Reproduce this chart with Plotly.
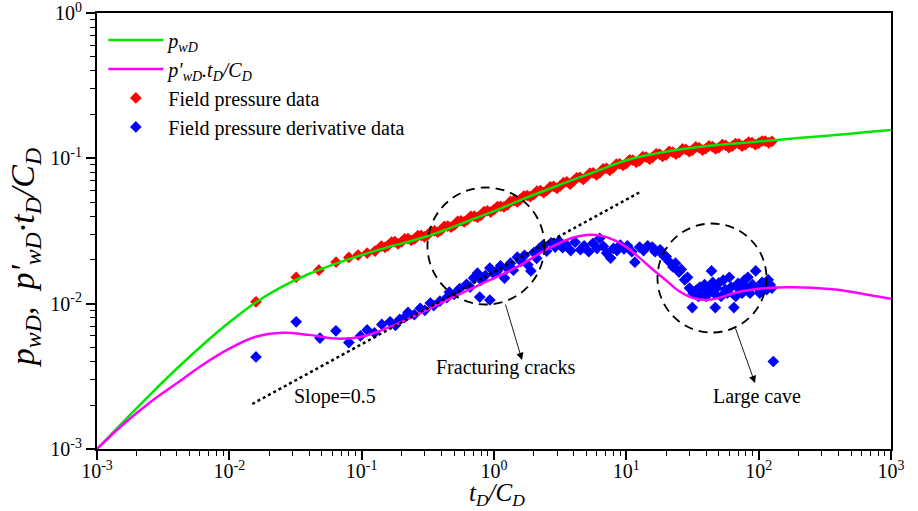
import plotly.graph_objects as go

# ---------------- data ----------------
# model curve p_wD
pwd_x = [0.001, 0.00158, 0.00251, 0.00398, 0.00631, 0.01, 0.0158, 0.0251, 0.0398, 0.0631,
         0.1, 0.158, 0.251, 0.398, 0.631, 1.0, 1.585, 2.512, 3.98, 6.31, 10, 15.85, 25.1,
         39.8, 63.1, 100, 158, 251, 398, 631, 1000]
pwd_y = [0.00100, 0.00154, 0.00236, 0.00355, 0.00522, 0.00745, 0.0102, 0.0131, 0.0160,
         0.0188, 0.0216, 0.0245, 0.0274, 0.0314, 0.0369, 0.0433, 0.0516, 0.0608, 0.0713,
         0.0832, 0.0970, 0.1069, 0.1151, 0.1213, 0.1259, 0.1306, 0.1355, 0.1403, 0.1452,
         0.1510, 0.1567]

# model derivative p'_wD * tD/CD
dpwd_x = [0.001, 0.00158, 0.00251, 0.00398, 0.00631, 0.01, 0.0158, 0.0251, 0.0398, 0.0631,
          0.1, 0.158, 0.251, 0.398, 0.631, 1.0, 1.585, 2.512, 3.98, 5.01, 6.31, 7.94, 10,
          12.6, 15.85, 20.0, 25.1, 31.6, 39.8, 50.1, 63.1, 100, 158, 251, 398, 631, 1000]
dpwd_y = [0.00100, 0.00148, 0.00209, 0.00282, 0.00380, 0.00490, 0.00592, 0.00631, 0.00610,
          0.00575, 0.00592, 0.00684, 0.00822, 0.01012, 0.01236, 0.01496, 0.01841, 0.02371,
          0.02851, 0.02972, 0.02951, 0.02754, 0.02449, 0.02065, 0.01718, 0.01445, 0.01216,
          0.01096, 0.01059, 0.01096, 0.01175, 0.01265, 0.01297, 0.01288, 0.01245, 0.01161,
          0.01079]

# field pressure data
red_x = [0.0159, 0.032, 0.0475, 0.064, 0.080, 0.094, 0.110, 0.126,
         0.141, 0.158, 0.178, 0.200, 0.224, 0.251, 0.282, 0.316, 0.355, 0.398, 0.447, 0.501,
         0.562, 0.631, 0.708, 0.794, 0.891, 1.00, 1.12, 1.26, 1.41, 1.58, 1.78, 2.00, 2.24,
         2.51, 2.82, 3.16, 3.55, 3.98, 4.47, 5.01, 5.62, 6.31, 7.08, 7.94, 8.91, 10.0, 11.2,
         12.6, 14.1, 15.8, 17.8, 20.0, 22.4, 25.1, 28.2, 31.6, 35.5, 39.8, 44.7, 50.1, 56.2,
         63.1, 70.8, 79.4, 89.1, 100, 112, 126,
         0.150, 0.168, 0.188, 0.211, 0.237, 0.266, 0.299, 0.335, 0.376, 0.422, 0.473, 0.531,
         0.596, 0.668, 0.750, 0.841, 0.944, 1.06, 1.19, 1.33, 1.50, 1.68, 1.88, 2.11, 2.37,
         2.66, 2.99, 3.35, 3.76, 4.22, 4.73, 5.31, 5.96, 6.68, 7.50, 8.41, 9.44, 10.6, 11.9,
         13.3, 15.0, 16.8, 18.8, 21.1, 23.7, 26.6, 29.9, 33.5, 37.6, 42.2, 47.3, 53.1, 59.6,
         66.8, 75.0, 84.1, 94.4, 106, 119]
red_y = [0.0103, 0.0152, 0.0170, 0.0193, 0.0208, 0.0216, 0.0223, 0.0230,
         0.0249, 0.0251, 0.0267, 0.0266, 0.0280, 0.0279, 0.0295, 0.0298, 0.0317, 0.0321, 0.0342,
         0.0347, 0.0372, 0.0379, 0.0400, 0.0405, 0.0436, 0.0443, 0.0468, 0.0477, 0.0512, 0.0522,
         0.0555, 0.0564, 0.0600, 0.0601, 0.0641, 0.0646, 0.0690, 0.0697, 0.0741, 0.0750, 0.0794,
         0.0798, 0.0853, 0.0859, 0.0916, 0.0923, 0.0972, 0.0964, 0.1019, 0.1016, 0.1069, 0.1054,
         0.1104, 0.1099, 0.1151, 0.1140, 0.1183, 0.1164, 0.1205, 0.1186, 0.1230, 0.1213, 0.1256,
         0.1242, 0.1282, 0.1271, 0.1312, 0.1309,
         0.0244, 0.0265, 0.0258, 0.0279, 0.0273, 0.0294, 0.0288, 0.0314, 0.0310, 0.0341,
         0.0336, 0.0369, 0.0365, 0.0399, 0.0393, 0.0430, 0.0427, 0.0465, 0.0463, 0.0505,
         0.0501, 0.0550, 0.0545, 0.0595, 0.0581, 0.0637, 0.0622, 0.0680, 0.0664, 0.0734,
         0.0715, 0.0790, 0.0769, 0.0848, 0.0827, 0.0914, 0.0893, 0.0977, 0.0939, 0.1026,
         0.0986, 0.1074, 0.1030, 0.1117, 0.1069, 0.1161, 0.1112, 0.1200, 0.1139, 0.1219,
         0.1161, 0.1242, 0.1186, 0.1265, 0.1213, 0.1291, 0.1242, 0.1314, 0.1279]

# field pressure derivative data
blue_x = [0.0159, 0.032, 0.0484, 0.0639, 0.080,
          0.098, 0.11, 0.125, 0.142, 0.164, 0.18, 0.194, 0.21, 0.224, 0.25, 0.277, 0.30, 0.33,
          0.35, 0.39, 0.44, 0.46, 0.50, 0.55, 0.62, 0.66, 0.70, 0.75, 0.78, 0.80, 0.86, 0.93,
          0.93, 1.0, 1.06, 1.12, 1.2, 1.26, 1.33, 1.4, 1.5, 1.6, 1.7, 1.8, 1.9, 2.0, 2.1, 2.2,
          2.35, 2.5,
          2.7, 2.9, 3.1, 3.3, 3.5, 3.8, 4.1, 4.5, 4.8, 5.2, 5.6, 6.0, 6.3, 6.7, 7.1, 7.6, 8.0,
          8.5, 9.0, 9.6, 10.2, 11.0, 11.6, 12.6, 13.5, 14.5, 15.7, 16.5, 18, 19, 20, 21, 22.5,
          23.5, 25, 26, 27.6, 29, 30,
          31.5, 32, 33.8, 35, 36, 38, 39, 40, 42, 44, 45, 46, 47, 48, 50, 52, 54, 56, 58, 60,
          62, 65, 67, 70, 72, 75, 78, 80, 83, 86, 90, 95, 98, 102, 106, 110, 115, 118, 122,
          126, 129]
blue_y = [0.0043, 0.0075, 0.0058, 0.0065, 0.0054,
          0.0060, 0.0066, 0.0063, 0.0072, 0.0075, 0.0071, 0.0078, 0.0080, 0.0087, 0.0084,
          0.0093, 0.0090, 0.0101, 0.0097, 0.0104, 0.0110, 0.0120, 0.0116, 0.0127, 0.0136,
          0.0130, 0.0150, 0.0162, 0.0111, 0.0145, 0.0156, 0.0176, 0.0106, 0.0160, 0.0168,
          0.0182, 0.0150, 0.0175, 0.0190, 0.0170, 0.0209, 0.0195, 0.0215, 0.0185, 0.0168,
          0.0225, 0.0205, 0.0240, 0.0253, 0.0230,
          0.0262, 0.0245, 0.0270, 0.0243, 0.0255, 0.0232, 0.0265, 0.0235, 0.0250, 0.0228,
          0.0260, 0.0240, 0.0282, 0.0248, 0.0223, 0.0206, 0.0240, 0.0232, 0.0253, 0.0238,
          0.0250, 0.0228, 0.0193, 0.0245, 0.0232, 0.0250, 0.0245, 0.0228, 0.0235, 0.0215,
          0.0211, 0.0195, 0.0179, 0.0190, 0.0165, 0.0172, 0.0146, 0.0152, 0.0128,
          0.0094, 0.0118, 0.0124, 0.0112, 0.0130, 0.0120, 0.0135, 0.0112, 0.0125, 0.0168,
          0.0140, 0.0118, 0.0094, 0.0128, 0.0139, 0.0112, 0.0145, 0.0125, 0.0118, 0.0152,
          0.0130, 0.0094, 0.0112, 0.0138, 0.0125, 0.0118, 0.0145, 0.0130, 0.0152, 0.0118,
          0.0135, 0.0168, 0.0128, 0.0118, 0.0140, 0.0130, 0.0125, 0.0146, 0.0135, 0.0128,
          0.0040]

# half-slope reference line
slope_x = [0.0149, 12.7]
slope_y = [0.00204, 0.0586]

x_tick_vals = [1e-3, 1e-2, 1e-1, 1e0, 1e1, 1e2, 1e3]
x_tick_text = ["10<sup>-3</sup>", "10<sup>-2</sup>", "10<sup>-1</sup>", "10<sup>0</sup>",
               "10<sup>1</sup>", "10<sup>2</sup>", "10<sup>3</sup>"]
y_tick_vals = [1e-3, 1e-2, 1e-1, 1e0]
y_tick_text = ["10<sup>-3</sup>", "10<sup>-2</sup>", "10<sup>-1</sup>", "10<sup>0</sup>"]

# ---------------- figure ----------------
FONT = "Liberation Serif"

x_minor = [m * 10 ** e for e in range(-3, 3) for m in range(2, 10)]
y_minor = [m * 10 ** e for e in range(-3, 0) for m in range(2, 10)]

fig = go.Figure()

fig.add_trace(go.Scatter(x=red_x, y=red_y, mode="markers", name="Field pressure data",
                         marker=dict(symbol="diamond", size=9, color="#ff0000", line=dict(width=0)),
                         legendrank=3))
fig.add_trace(go.Scatter(x=blue_x, y=blue_y, mode="markers", name="Field pressure derivative data",
                         marker=dict(symbol="diamond", size=9, color="#0000ff", line=dict(width=0)),
                         legendrank=4))
fig.add_trace(go.Scatter(x=pwd_x, y=pwd_y, mode="lines", name="<i>p<sub>wD</sub></i>",
                         line=dict(color="#00e600", width=2.5, shape="spline"), legendrank=1))
fig.add_trace(go.Scatter(x=dpwd_x, y=dpwd_y, mode="lines",
                         name="<i>p'<sub>wD</sub>.t<sub>D</sub>/C<sub>D</sub></i>",
                         line=dict(color="#ff00ff", width=2.5, shape="spline"), legendrank=2))
fig.add_trace(go.Scatter(x=slope_x, y=slope_y, mode="lines", showlegend=False,
                         line=dict(color="black", width=2.5, dash="dot")))

axis_common = dict(
    type="log", showgrid=False, zeroline=False, showline=True, linecolor="black", linewidth=2,
    mirror=True, ticks="outside", ticklen=9, tickwidth=1.5, tickcolor="black",
    tickfont=dict(family=FONT, size=20, color="black"), tickmode="array", automargin=False,
    ticklabeloverflow="allow",
)

fig.update_xaxes(**axis_common, range=[-3, 3], tickvals=x_tick_vals, ticktext=x_tick_text,
                 ticklabelstandoff=-6,
                 minor=dict(tickmode="array", tickvals=x_minor, ticks="outside", ticklen=5,
                            tickwidth=1.2, tickcolor="black", showgrid=False))
fig.update_yaxes(**axis_common, range=[-3, 0], tickvals=y_tick_vals, ticktext=y_tick_text,
                 minor=dict(tickmode="array", tickvals=y_minor, ticks="outside", ticklen=5,
                            tickwidth=1.2, tickcolor="black", showgrid=False))

shapes = [
    dict(type="circle", xref="paper", yref="paper", x0=0.4162, x1=0.5636, y0=0.3314, y1=0.5998,
         line=dict(color="black", width=1.8, dash="9px,6px")),
    dict(type="circle", xref="paper", yref="paper", x0=0.7059, x1=0.8432, y0=0.2672, y1=0.5172,
         line=dict(color="black", width=1.8, dash="9px,6px")),
]

annotations = [
    # axis titles
    dict(x=0.5035, y=-0.1055, xref="paper", yref="paper", xanchor="center", yanchor="middle",
         text="<i>t<sub>D</sub>/C<sub>D</sub></i>", showarrow=False,
         font=dict(family=FONT, size=25, color="black")),
    dict(x=-0.0907, y=0.44, xref="paper", yref="paper", xanchor="center", yanchor="middle",
         text="<i>p<sub>wD</sub>,  p'<sub>wD</sub>·t<sub>D</sub>/C<sub>D</sub></i>",
         textangle=-90, showarrow=False, font=dict(family=FONT, size=34, color="black")),
    # arrows and notes
    dict(x=0.5353, y=0.2041, xref="paper", yref="paper", text="", showarrow=True,
         ax=-17, ay=-57, arrowhead=2, arrowsize=1.6, arrowwidth=0.9, arrowcolor="black"),
    dict(x=0.8287, y=0.1514, xref="paper", yref="paper", text="", showarrow=True,
         ax=-20, ay=-56, arrowhead=2, arrowsize=1.6, arrowwidth=0.9, arrowcolor="black"),
    dict(x=0.5151, y=0.188, xref="paper", yref="paper", xanchor="center", yanchor="middle",
         text="Fracturing cracks", showarrow=False, font=dict(family=FONT, size=20, color="black")),
    dict(x=0.8312, y=0.1193, xref="paper", yref="paper", xanchor="center", yanchor="middle",
         text="Large cave", showarrow=False, font=dict(family=FONT, size=20, color="black")),
    dict(x=0.2997, y=0.1193, xref="paper", yref="paper", xanchor="center", yanchor="middle",
         text="Slope=0.5", showarrow=False, font=dict(family=FONT, size=20, color="black")),
]

fig.update_layout(
    width=918, height=511, autosize=False,
    margin=dict(l=97, r=27, t=13, b=62),
    paper_bgcolor="white", plot_bgcolor="white",
    font=dict(family=FONT, color="black"),
    shapes=shapes, annotations=annotations,
    legend=dict(x=0.008, y=0.983, xanchor="left", yanchor="top", bgcolor="rgba(0,0,0,0)",
                font=dict(family=FONT, size=20, color="black"), tracegroupgap=0,
                itemwidth=55),
)

fig.write_html("out.html")
